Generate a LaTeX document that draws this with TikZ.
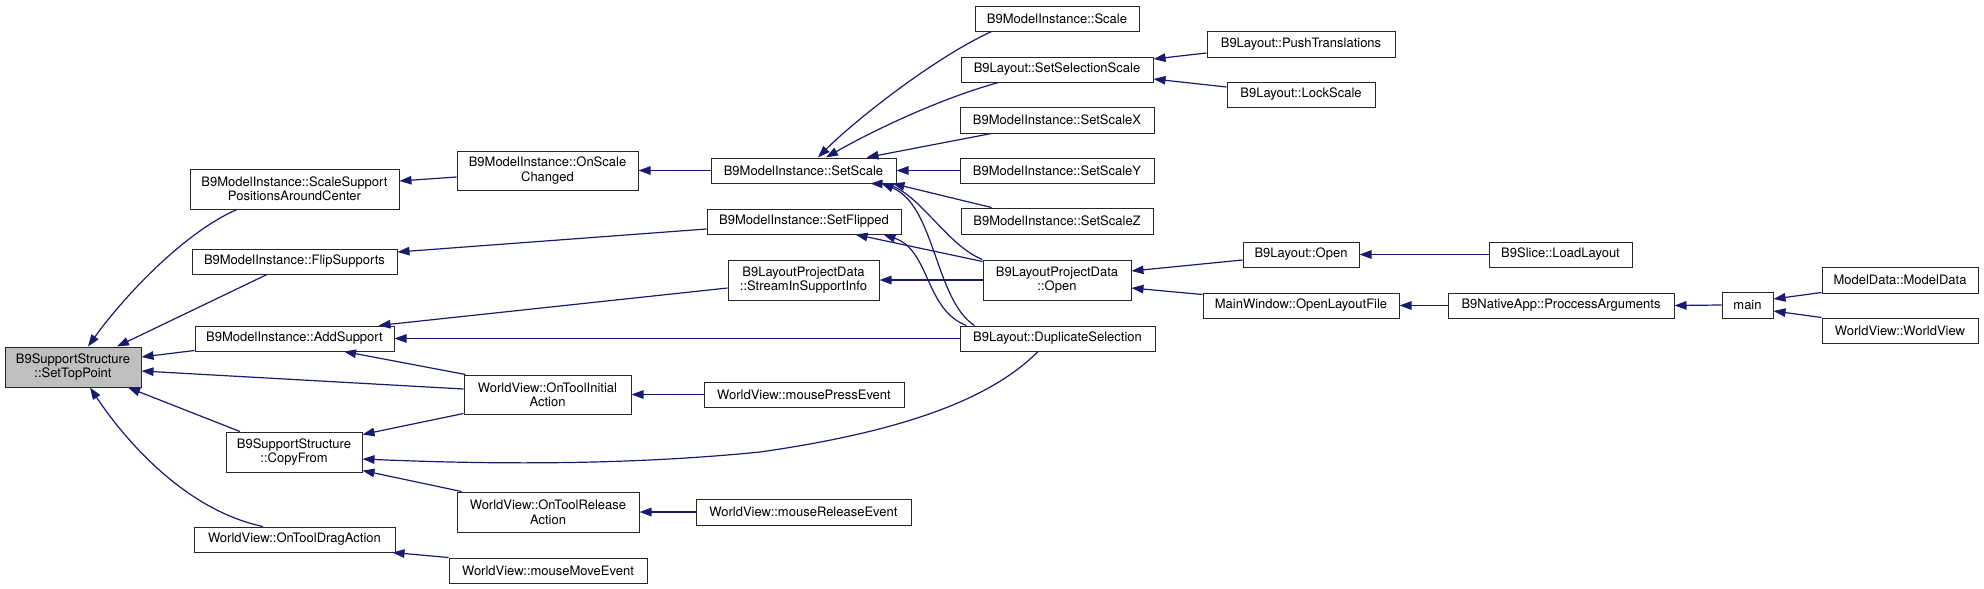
\documentclass[tikz,border=0pt]{standalone}
\usepackage{fontspec}
\setmainfont{TeX Gyre Heros}
\usetikzlibrary{arrows.meta}
\definecolor{mblue}{RGB}{25,25,112}
\definecolor{gfill}{RGB}{191,191,191}
\begin{document}
\begin{tikzpicture}[x=1pt,y=-1pt,
  box/.style={draw=black!85, line width=1pt, fill=white, inner sep=0pt, align=center,
    font=\fontsize{13}{14.5}\selectfont},
  edge/.style={draw=mblue, line width=1.2pt, arrows={Triangle[length=12pt,width=8.5pt]-}, fill=none}]
\useasboundingbox (0,0) rectangle (1984,589);
% column 0
\node[box, fill=gfill, minimum width=136pt, minimum height=40pt] (top) at (73,367) {B9SupportStructure\\::SetTopPoint};
% column 1
\node[box, minimum width=209pt, minimum height=40pt] (scalesup) at (294.5,189) {B9ModelInstance::ScaleSupport\\PositionsAroundCenter};
\node[box, minimum width=205pt, minimum height=25pt] (flip) at (294.5,261.5) {B9ModelInstance::FlipSupports};
\node[box, minimum width=199pt, minimum height=25pt] (addsup) at (294.5,338.5) {B9ModelInstance::AddSupport};
\node[box, minimum width=136pt, minimum height=40pt] (copy) at (294,452) {B9SupportStructure\\::CopyFrom};
\node[box, minimum width=201pt, minimum height=25pt] (drag) at (294.5,539.5) {WorldView::OnToolDragAction};
% column 2
\node[box, minimum width=181pt, minimum height=39pt] (onscale) at (547.5,170.5) {B9ModelInstance::OnScale\\Changed};
\node[box, minimum width=167pt, minimum height=39pt] (initial) at (547.5,394.5) {WorldView::OnToolInitial\\Action};
\node[box, minimum width=182pt, minimum height=40pt] (release) at (548,512) {WorldView::OnToolRelease\\Action};
\node[box, minimum width=198pt, minimum height=25pt] (mmove) at (548,570.5) {WorldView::mouseMoveEvent};
% column 3
\node[box, minimum width=185pt, minimum height=25pt] (setscale) at (803.5,170.5) {B9ModelInstance::SetScale};
\node[box, minimum width=194pt, minimum height=25pt] (setflip) at (804,221.5) {B9ModelInstance::SetFlipped};
\node[box, minimum width=151pt, minimum height=40pt] (stream) at (803.5,280) {B9LayoutProjectData\\::StreamInSupportInfo};
\node[box, minimum width=200pt, minimum height=25pt] (mpress) at (804,394.5) {WorldView::mousePressEvent};
\node[box, minimum width=215pt, minimum height=26pt] (mrelease) at (803.5,512) {WorldView::mouseReleaseEvent};
% column 4
\node[box, minimum width=164pt, minimum height=25pt] (scale) at (1057,18.5) {B9ModelInstance::Scale};
\node[box, minimum width=192pt, minimum height=25pt] (selscale) at (1057,69.5) {B9Layout::SetSelectionScale};
\node[box, minimum width=194pt, minimum height=26pt] (scalex) at (1057,120) {B9ModelInstance::SetScaleX};
\node[box, minimum width=194pt, minimum height=25pt] (scaley) at (1057,170.5) {B9ModelInstance::SetScaleY};
\node[box, minimum width=192pt, minimum height=26pt] (scalez) at (1057,221) {B9ModelInstance::SetScaleZ};
\node[box, minimum width=148pt, minimum height=40pt] (lpdopen) at (1057,280) {B9LayoutProjectData\\::Open};
\node[box, minimum width=195pt, minimum height=25pt] (dup) at (1057.5,338.5) {B9Layout::DuplicateSelection};
% column 5
\node[box, minimum width=188pt, minimum height=26pt] (push) at (1301,44) {B9Layout::PushTranslations};
\node[box, minimum width=148pt, minimum height=25pt] (lock) at (1301,94.5) {B9Layout::LockScale};
\node[box, minimum width=116pt, minimum height=25pt] (layopen) at (1301,254.5) {B9Layout::Open};
\node[box, minimum width=196pt, minimum height=25pt] (openfile) at (1301,305.5) {MainWindow::OpenLayoutFile};
% column 6
\node[box, minimum width=143pt, minimum height=25pt] (loadlayout) at (1560.5,254.5) {B9Slice::LoadLayout};
\node[box, minimum width=226pt, minimum height=25pt] (proc) at (1561,305.5) {B9NativeApp::ProccessArguments};
% column 7
\node[box, minimum width=51pt, minimum height=26pt] (main) at (1747.5,305) {main};
% column 8
\node[box, minimum width=156pt, minimum height=26pt] (modeldata) at (1900,280) {ModelData::ModelData};
\node[box, minimum width=156pt, minimum height=25pt] (worldview) at (1900,330.5) {WorldView::WorldView};

% edges into SetTopPoint
\draw[edge] ([shift={(15,0)}]top.north) .. controls (125,295) and (185,232) .. ([shift={(-57.5,0)}]scalesup.south);
\draw[edge] ([shift={(44,0)}]top.north) -- ([shift={(-27.5,0)}]flip.south);
\draw[edge] ([shift={(0,-10)}]top.east) -- ([shift={(0,-1)}]addsup.south west);
\draw[edge] ([shift={(0,4)}]top.east) -- ([shift={(0,-5.5)}]initial.west);
\draw[edge] ([shift={(55,0)}]top.south) -- ([shift={(-54,0)}]copy.north);
\draw[edge] ([shift={(17,0)}]top.south) .. controls (125,440) and (185,510) .. ([shift={(-31.5,0)}]drag.north);
% column 1 incoming
\draw[edge] ([shift={(0,-8)}]scalesup.east) -- ([shift={(0,6.5)}]onscale.west);
\draw[edge] ([shift={(0,-9.5)}]flip.east) -- ([shift={(0,7.5)}]setflip.west);
\draw[edge] ([shift={(-16,0)}]addsup.north east) -- ([shift={(0,8)}]stream.west);
\draw[edge] (addsup.east) -- (dup.west);
\draw[edge] ([shift={(49.5,0)}]addsup.south) -- ([shift={(2,0)}]initial.north west);
\draw[edge] ([shift={(0,3)}]copy.north east) -- ([shift={(0,-1)}]initial.south west);
\draw[edge] ([shift={(0,7)}]copy.east) .. controls (480,464) and (620,466) .. (760,452) .. controls (900,432) and (990,400) .. ([shift={(-19.5,0)}]dup.south);
\draw[edge] ([shift={(0,-2)}]copy.south east) -- ([shift={(5,0)}]release.north west);
\draw[edge] ([shift={(-3,0)}]drag.south east) -- (mmove.north west);
% column 2 incoming
\draw[edge] (onscale.east) -- (setscale.west);
\draw[edge] (initial.east) -- (mpress.west);
\draw[edge] (release.east) -- (mrelease.west);
% SetScale incoming
\draw[edge] ([shift={(14.5,0)}]setscale.north) .. controls (850,125) and (930,60) .. ([shift={(17,0)}]scale.south west);
\draw[edge] ([shift={(22.5,0)}]setscale.north) .. controls (865,135) and (935,100) .. ([shift={(38,0)}]selscale.south west);
\draw[edge] ([shift={(-30,0)}]setscale.north east) -- ([shift={(32,0)}]scalex.south west);
\draw[edge] (setscale.east) -- (scaley.west);
\draw[edge] ([shift={(-4,0)}]setscale.south east) -- ([shift={(31,0)}]scalez.north west);
\draw[edge] ([shift={(-26,0)}]setscale.south east) .. controls (915,185) and (945,245) .. (lpdopen.north west);
\draw[edge] ([shift={(-15,0)}]setscale.south east) .. controls (935,205) and (935,300) .. ([shift={(15,0)}]dup.north west);
% SetFlipped incoming
\draw[edge] ([shift={(-46,0)}]setflip.south east) -- ([shift={(0,2)}]lpdopen.north west);
\draw[edge] ([shift={(-18,0)}]setflip.south east) .. controls (930,250) and (925,310) .. ([shift={(7,0)}]dup.north west);
% StreamInSupportInfo incoming
\draw[edge] (stream.east) -- (lpdopen.west);
% SetSelectionScale incoming
\draw[edge] ([shift={(0,-10.5)}]selscale.east) -- ([shift={(0,9)}]push.west);
\draw[edge] ([shift={(0,9.5)}]selscale.east) -- ([shift={(0,-7.5)}]lock.west);
% LayoutProjectData::Open incoming
\draw[edge] ([shift={(0,-9)}]lpdopen.east) -- ([shift={(0,5.5)}]layopen.west);
\draw[edge] ([shift={(0,8)}]lpdopen.east) -- ([shift={(0,2)}]openfile.north west);
% right part
\draw[edge] (layopen.east) -- (loadlayout.west);
\draw[edge] (openfile.east) -- (proc.west);
\draw[edge] (proc.east) -- (main.west);
\draw[edge] ([shift={(0,-6)}]main.east) -- ([shift={(0,-1)}]modeldata.south west);
\draw[edge] ([shift={(0,6)}]main.east) -- (worldview.north west);
\end{tikzpicture}
\end{document}
